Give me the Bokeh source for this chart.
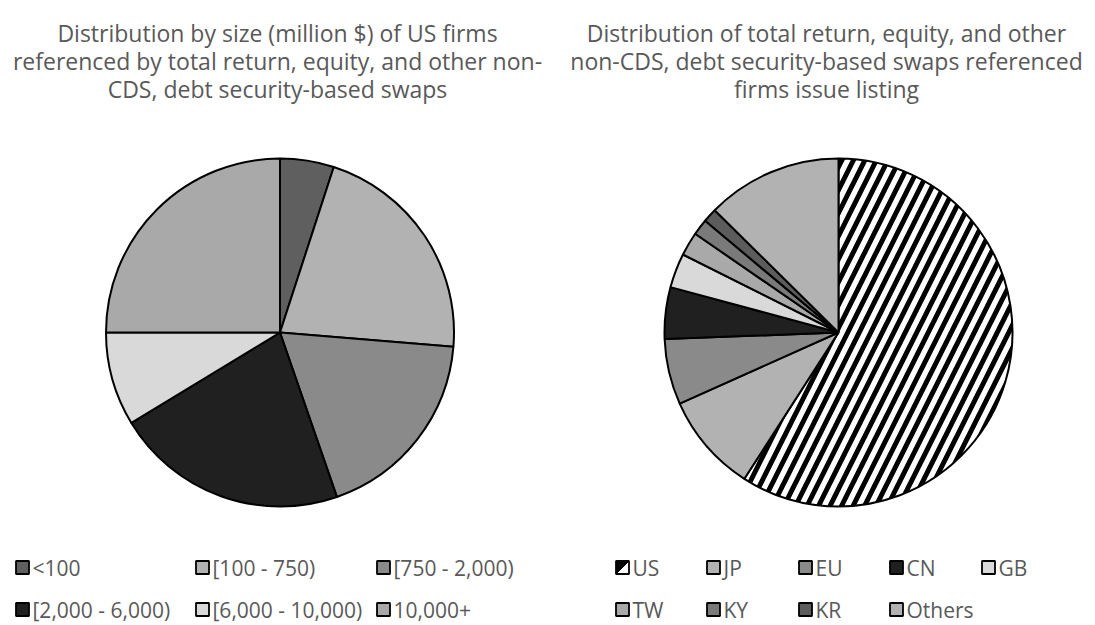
import math
from bokeh.plotting import figure
from bokeh.layouts import row
from bokeh.models import Range1d, ColumnDataSource
from bokeh.core.properties import value
from bokeh.embed import file_html
from bokeh.resources import INLINE

# ---- data ----
left_title = ["Distribution by size (million $) of US firms",
              "referenced by total return, equity, and other non-",
              "CDS, debt security-based swaps"]
left_labels = ["<100", "[100 - 750)", "[750 - 2,000)", "[2,000 - 6,000)", "[6,000 - 10,000)", "10,000+"]
left_values = [5.0, 21.3, 18.4, 21.6, 8.7, 25.0]
left_colors = ["#5f5f5f", "#b2b2b2", "#8a8a8a", "#202020", "#d9d9d9", "#a9a9a9"]

right_title = ["Distribution of total return, equity, and other",
               "non-CDS, debt security-based swaps referenced",
               "firms issue listing"]
right_labels = ["US", "JP", "EU", "CN", "GB", "TW", "KY", "KR", "Others"]
right_values = [59.1, 9.2, 6.1, 4.8, 3.2, 2.2, 1.5, 1.3, 12.6]
right_colors = ["white", "#b2b2b2", "#8a8a8a", "#202020", "#d9d9d9", "#a9a9a9", "#7a7a7a", "#5c5c5c", "#b2b2b2"]
right_hatch = ["/", " ", " ", " ", " ", " ", " ", " ", " "]

FONT = value("Open Sans")
TXT = "#595959"
H = 625
W = 1095
FS_T = value("23px")
FS_L = value("21px")


def ry(y):
    return H - y


def make_fig(x0, x1):
    p = figure(width=int(x1 - x0), height=H, output_backend="svg", toolbar_location=None,
               x_range=Range1d(x0, x1), y_range=Range1d(ry(H), ry(0)),
               min_border=0, outline_line_color=None)
    p.axis.visible = False
    p.grid.visible = False
    p.background_fill_color = "white"
    p.border_fill_color = "white"
    return p


def wedges(vals):
    tot = float(sum(vals))
    starts, ends = [], []
    c = 0.0
    for v in vals:
        a = c / tot
        c += v
        b = c / tot
        starts.append(math.pi / 2 - 2 * math.pi * b)
        ends.append(math.pi / 2 - 2 * math.pi * a)
    return starts, ends


def draw_pie(p, cx, cy, r, vals, colors, hatch=None):
    s, e = wedges(vals)
    d = dict(start=s, end=e, color=colors)
    kw = {}
    if hatch is not None:
        d["hatch"] = hatch
        kw = dict(hatch_pattern="hatch", hatch_color="black", hatch_scale=23, hatch_weight=5)
    src = ColumnDataSource(d)
    p.wedge(x=cx, y=ry(cy), radius=r, start_angle="start", end_angle="end", direction="anticlock",
            fill_color="color", line_color="black", line_width=2, source=src, **kw)


def draw_title(p, cx, lines):
    ys = [ry(y) for y in (32, 60, 88)]
    p.text(x=[cx] * len(lines), y=ys, text=lines, text_align="center", text_baseline="middle",
           text_font=FONT, text_font_size=FS_T, text_color=TXT)


def draw_legend(p, xs, ys, labels, colors, split_first=False):
    d = dict(x=xs, y=[ry(y) for y in ys], color=colors, tx=[x + 10 for x in xs], label=labels)
    src = ColumnDataSource(d)
    p.rect(x="x", y="y", width=13, height=13, fill_color="color", line_color="black",
           line_width=1.8, source=src)
    if split_first:
        x0, y0 = xs[0], ry(ys[0])
        p.patch(x=[x0 - 6, x0 + 6, x0 - 6], y=[y0 - 6, y0 + 6, y0 + 6],
                fill_color="black", line_color="black", line_width=1)
    p.text(x="tx", y="y", text="label", text_align="left", text_baseline="middle",
           text_font=FONT, text_font_size=FS_L, text_color=TXT, source=src)


# left panel
pl = make_fig(0, 547)
draw_title(pl, 277, left_title)
draw_pie(pl, 279.5, 332, 174, left_values, left_colors)
draw_legend(pl, [22, 202, 383, 22, 202, 383], [567, 567, 567, 609, 609, 609], left_labels, left_colors)

# right panel
pr = make_fig(547, W)
draw_title(pr, 826, right_title)
draw_pie(pr, 838, 332, 174, right_values, right_colors, right_hatch)
draw_legend(pr, [622, 713, 805, 896, 988, 622, 713, 805, 896],
            [567, 567, 567, 567, 567, 609, 609, 609, 609], right_labels, right_colors, split_first=True)

layout = row(pl, pr, spacing=0)
open("out.html", "w").write(file_html(layout, INLINE))
